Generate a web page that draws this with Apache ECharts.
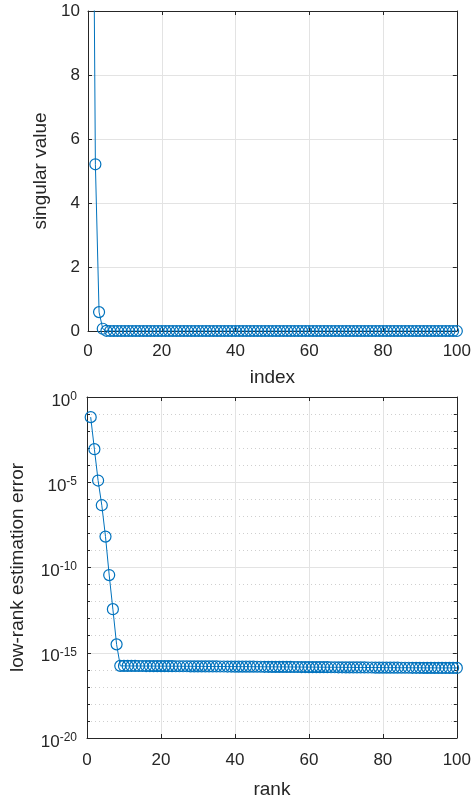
<!DOCTYPE html>
<html>
<head>
<meta charset="utf-8">
<script src="https://cdn.jsdelivr.net/npm/echarts@6/dist/echarts.min.js"></script>
<style>
  html, body { margin: 0; padding: 0; background: #fff; }
  #chart { width: 474px; height: 800px; }
</style>
</head>
<body>
<div id="chart"></div>
<script>
// singular values, index 1..100
var singularValues = [
  22.0, 5.21, 0.59, 0.07, 0.006, 3e-4, 1.5e-5, 4e-7, 1e-8, 1e-16,
  1e-16, 1e-16, 1e-16, 1e-16, 1e-16, 1e-16, 1e-16, 1e-16, 1e-16, 1e-16,
  1e-16, 1e-16, 1e-16, 1e-16, 1e-16, 1e-16, 1e-16, 1e-16, 1e-16, 1e-16,
  1e-16, 1e-16, 1e-16, 1e-16, 1e-16, 1e-16, 1e-16, 1e-16, 1e-16, 1e-16,
  1e-16, 1e-16, 1e-16, 1e-16, 1e-16, 1e-16, 1e-16, 1e-16, 1e-16, 1e-16,
  1e-16, 1e-16, 1e-16, 1e-16, 1e-16, 1e-16, 1e-16, 1e-16, 1e-16, 1e-16,
  1e-16, 1e-16, 1e-16, 1e-16, 1e-16, 1e-16, 1e-16, 1e-16, 1e-16, 1e-16,
  1e-16, 1e-16, 1e-16, 1e-16, 1e-16, 1e-16, 1e-16, 1e-16, 1e-16, 1e-16,
  1e-16, 1e-16, 1e-16, 1e-16, 1e-16, 1e-16, 1e-16, 1e-16, 1e-16, 1e-16,
  1e-16, 1e-16, 1e-16, 1e-16, 1e-16, 1e-16, 1e-16, 1e-16, 1e-16, 1e-16
];

// low-rank estimation error, rank 1..100
var rankErrors = [
  6.6e-2, 8.7e-4, 1.26e-5, 4.5e-7, 6.5e-9, 3.6e-11, 3.6e-13, 3.1e-15, 1.70e-16, 1.69e-16,
  1.69e-16, 1.68e-16, 1.68e-16, 1.67e-16, 1.67e-16, 1.66e-16, 1.66e-16, 1.65e-16, 1.65e-16, 1.64e-16,
  1.64e-16, 1.63e-16, 1.63e-16, 1.62e-16, 1.62e-16, 1.61e-16, 1.61e-16, 1.60e-16, 1.60e-16, 1.59e-16,
  1.59e-16, 1.58e-16, 1.58e-16, 1.57e-16, 1.57e-16, 1.56e-16, 1.56e-16, 1.55e-16, 1.55e-16, 1.54e-16,
  1.54e-16, 1.53e-16, 1.53e-16, 1.52e-16, 1.52e-16, 1.51e-16, 1.51e-16, 1.50e-16, 1.50e-16, 1.49e-16,
  1.49e-16, 1.48e-16, 1.48e-16, 1.47e-16, 1.47e-16, 1.46e-16, 1.46e-16, 1.45e-16, 1.45e-16, 1.44e-16,
  1.44e-16, 1.43e-16, 1.43e-16, 1.42e-16, 1.42e-16, 1.41e-16, 1.41e-16, 1.40e-16, 1.40e-16, 1.39e-16,
  1.39e-16, 1.38e-16, 1.38e-16, 1.37e-16, 1.37e-16, 1.36e-16, 1.36e-16, 1.35e-16, 1.35e-16, 1.34e-16,
  1.34e-16, 1.33e-16, 1.33e-16, 1.33e-16, 1.32e-16, 1.32e-16, 1.32e-16, 1.31e-16, 1.31e-16, 1.31e-16,
  1.30e-16, 1.30e-16, 1.30e-16, 1.30e-16, 1.29e-16, 1.29e-16, 1.29e-16, 1.29e-16, 1.29e-16, 1.29e-16
];

var xTicks = [0, 20, 40, 60, 80, 100];
var svTicks = [0, 2, 4, 6, 8, 10];
var errExpTicks = [-20, -15, -10, -5, 0];

var blue = '#0072BD';
var ink = '#262626';
var gridCol = '#e3e3e3';
var font = '"Liberation Sans", Arial, sans-serif';

var chart = echarts.init(document.getElementById('chart'), null, { renderer: 'canvas' });

var svData = singularValues.map(function(v, i) { return [i + 1, v]; });
var errData = rankErrors.map(function(v, i) { return [i + 1, Math.log10(v)]; });

// top / right axes only draw the box and the inner ticks
function frameAxis(gridIndex, pos, min, max, interval, minor) {
  return {
    type: 'value', gridIndex: gridIndex, position: pos,
    min: min, max: max, interval: interval,
    axisLine: { show: true, onZero: false, lineStyle: { color: ink, width: 1 } },
    axisTick: { show: true, inside: true, length: 4, lineStyle: { color: ink } },
    minorTick: { show: !!minor, splitNumber: 5, length: 3, lineStyle: { color: ink } },
    axisLabel: { show: false },
    splitLine: { show: false }
  };
}

var xLabel = { color: ink, fontSize: 17, fontFamily: font };
var nameStyle = { color: ink, fontSize: 19, fontFamily: font };

chart.setOption({
  animation: false,
  grid: [
    { left: 88, right: 15, top: 11, height: 320 },
    { left: 87, right: 15, top: 397, height: 341 }
  ],
  xAxis: [
    {
      type: 'value', gridIndex: 0, position: 'bottom',
      min: xTicks[0], max: xTicks[xTicks.length - 1], interval: 20,
      name: 'index', nameLocation: 'middle', nameGap: 37,
      nameTextStyle: nameStyle,
      axisLine: { onZero: false, lineStyle: { color: ink } },
      axisTick: { inside: true, length: 4, lineStyle: { color: ink } },
      axisLabel: Object.assign({ margin: 12 }, xLabel),
      splitLine: { show: true, lineStyle: { color: gridCol, width: 1 } }
    },
    frameAxis(0, 'top', 0, 100, 20),
    {
      type: 'value', gridIndex: 1, position: 'bottom',
      min: xTicks[0], max: xTicks[xTicks.length - 1], interval: 20,
      name: 'rank', nameLocation: 'middle', nameGap: 42,
      nameTextStyle: nameStyle,
      axisLine: { onZero: false, lineStyle: { color: ink } },
      axisTick: { inside: true, length: 4, lineStyle: { color: ink } },
      axisLabel: Object.assign({ margin: 14 }, xLabel),
      splitLine: { show: true, lineStyle: { color: gridCol, width: 1 } }
    },
    frameAxis(1, 'top', 0, 100, 20)
  ],
  yAxis: [
    {
      type: 'value', gridIndex: 0, position: 'left',
      min: svTicks[0], max: svTicks[svTicks.length - 1], interval: 2,
      name: 'singular value', nameLocation: 'middle', nameGap: 28,
      nameTextStyle: nameStyle,
      axisLine: { show: true, onZero: false, lineStyle: { color: ink } },
      axisTick: { show: true, inside: true, length: 4, lineStyle: { color: ink } },
      axisLabel: { color: ink, fontSize: 17, fontFamily: font, margin: 8 },
      splitLine: { show: true, lineStyle: { color: gridCol, width: 1 } }
    },
    frameAxis(0, 'right', 0, 10, 2),
    {
      type: 'value', gridIndex: 1, position: 'left',
      min: errExpTicks[0], max: errExpTicks[errExpTicks.length - 1], interval: 5,
      name: 'low-rank estimation error', nameLocation: 'middle', nameGap: 60,
      nameTextStyle: nameStyle,
      axisLine: { show: true, onZero: false, lineStyle: { color: ink } },
      axisTick: { show: true, inside: true, length: 4, lineStyle: { color: ink } },
      minorTick: { show: true, splitNumber: 5, length: 3, lineStyle: { color: ink } },
      minorSplitLine: { show: true, lineStyle: { color: '#cfcfcf', type: [1, 3], width: 1 } },
      axisLabel: {
        margin: 10,
        padding: [8, 0, 0, 0],
        formatter: function(v) { return '{b|10}{s|' + v + '}'; },
        rich: {
          b: { color: ink, fontSize: 17, fontFamily: font },
          s: { color: ink, fontSize: 12, fontFamily: font, padding: [0, 0, 9, 0] }
        }
      },
      splitLine: { show: true, lineStyle: { color: gridCol, width: 1 } }
    },
    frameAxis(1, 'right', -20, 0, 5, true)
  ],
  series: [
    {
      type: 'line', xAxisIndex: 0, yAxisIndex: 0,
      data: svData, clip: true,
      symbol: 'circle', symbolSize: 11,
      lineStyle: { color: blue, width: 1 },
      itemStyle: { color: 'rgba(0,0,0,0)', borderColor: blue, borderWidth: 1.2 }
    },
    {
      type: 'line', xAxisIndex: 2, yAxisIndex: 2,
      data: errData, clip: true,
      symbol: 'circle', symbolSize: 11,
      lineStyle: { color: blue, width: 1 },
      itemStyle: { color: 'rgba(0,0,0,0)', borderColor: blue, borderWidth: 1.2 }
    }
  ]
});
</script>
</body>
</html>
